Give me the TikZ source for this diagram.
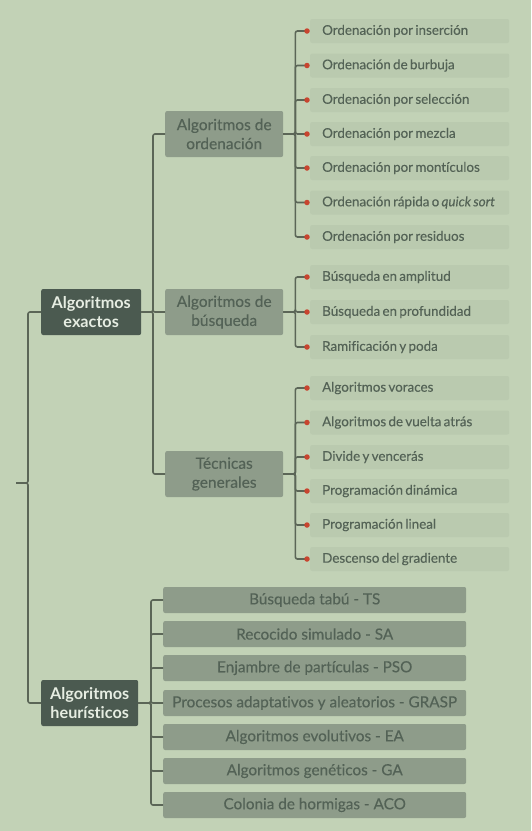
\documentclass[tikz,border=0pt]{standalone}
\usepackage{fontspec}
\setmainfont{Lato}[Ligatures={NoCommon}]
\newfontfamily\latomed{Lato}[FakeBold=0.3, Ligatures={NoCommon}]
\definecolor{bg}{HTML}{C2D2B6}
\definecolor{itembg}{HTML}{BACAAF}
\definecolor{subbg}{HTML}{8E9C8A}
\definecolor{darkbg}{HTML}{4B5A50}
\definecolor{linec}{HTML}{5B6657}
\definecolor{dotc}{HTML}{C8452F}
\definecolor{subtxt}{HTML}{536256}
\definecolor{itemtxt}{HTML}{546356}
\definecolor{lighttxt}{HTML}{E6EDE2}
\tikzset{
  conn/.style={draw=linec, line width=1.6pt, rounded corners=2pt},
  darkbox/.style={fill=darkbg, rounded corners=2pt, minimum height=46pt, inner sep=0pt,
    align=center, text=lighttxt, font=\fontsize{16.2}{19.5}\selectfont\bfseries, anchor=west},
  subbox/.style={fill=subbg, rounded corners=2pt, minimum width=118pt, minimum height=46pt,
    inner sep=0pt, align=center, text=subtxt, font=\latomed\fontsize{15.5}{19}\selectfont, anchor=west},
  itembox/.style={fill=itembg, rounded corners=2pt, text width=175pt, inner xsep=12pt,
    inner ysep=0pt, minimum height=24pt, align=left, text=itemtxt,
    font=\latomed\fontsize{13.4}{15}\selectfont, anchor=west},
  heurbox/.style={fill=subbg, rounded corners=2pt, minimum width=303pt, minimum height=26pt,
    inner sep=0pt, align=center, text=subtxt, font=\latomed\fontsize{15.3}{18}\selectfont, anchor=west},
  reddot/.style={circle, fill=dotc, minimum size=5.5pt, inner sep=0pt},
}
\begin{document}
\begin{tikzpicture}[x=1pt,y=-1pt]
\fill[bg] (0,0) rectangle (531,831);
\useasboundingbox (0,0) rectangle (531,831);

% root
\coordinate (root) at (16,483);
\node[darkbox, minimum width=100pt] (exa) at (41,312) {Algoritmos\\exactos};
\node[darkbox, minimum width=97pt] (heu) at (41,703) {Algoritmos\\heurísticos};
\draw[conn] (root) -- (28,483) |- (exa.west);
\draw[conn] (root) -- (28,483) |- (heu.west);

% sub-categories
\node[subbox] (ord) at (165,134) {Algoritmos de\\ordenación};
\node[subbox] (bus) at (165,312) {Algoritmos de\\búsqueda};
\node[subbox] (tec) at (165,474) {Técnicas\\generales};
\foreach \s in {ord,bus,tec}{
  \draw[conn] (exa.east) -- (153,312) |- (\s.west);
}

% items
\foreach \n/\y/\t/\p in {
  o1/31/{Ordenación por inserción}/ord,
  o2/65.5/{Ordenación de burbuja}/ord,
  o3/100/{Ordenación por selección}/ord,
  o4/134/{Ordenación por mezcla}/ord,
  o5/168/{Ordenación por montículos}/ord,
  o6/202.5/{Ordenación rápida o \textit{quick sort}}/ord,
  o7/237/{Ordenación por residuos}/ord,
  b1/277/{Búsqueda en amplitud}/bus,
  b2/312/{Búsqueda en profundidad}/bus,
  b3/347/{Ramificación y poda}/bus,
  t1/388/{Algoritmos voraces}/tec,
  t2/422.5/{Algoritmos de vuelta atrás}/tec,
  t3/457/{Divide y vencerás}/tec,
  t4/491/{Programación dinámica}/tec,
  t5/525/{Programación lineal}/tec,
  t6/559/{Descenso del gradiente}/tec}{
  \node[itembox] (\n) at (310,\y) {\spaceskip=0.17em\mbox{\t}};
  \coordinate (\n d) at (307,\y);
  \draw[conn] (\p.east) -- ++(12,0) |- (\n d);
}
\foreach \n in {o1,o2,o3,o4,o5,o6,o7,b1,b2,b3,t1,t2,t3,t4,t5,t6}{
  \node[reddot] at (\n d) {};
}

% heuristics
\foreach \n/\y/\t in {
  h1/600/{Búsqueda tabú - TS},
  h2/634/{Recocido simulado - SA},
  h3/668/{Enjambre de partículas - PSO},
  h4/703/{Procesos adaptativos y aleatorios - GRASP},
  h5/737/{Algoritmos evolutivos - EA},
  h6/771/{Algoritmos genéticos - GA},
  h7/805/{Colonia de hormigas - ACO}}{
  \node[heurbox] (\n) at (163,\y) {\t};
  \draw[conn] (heu.east) -- (151,703) |- (\n.west);
}
\end{tikzpicture}
\end{document}
